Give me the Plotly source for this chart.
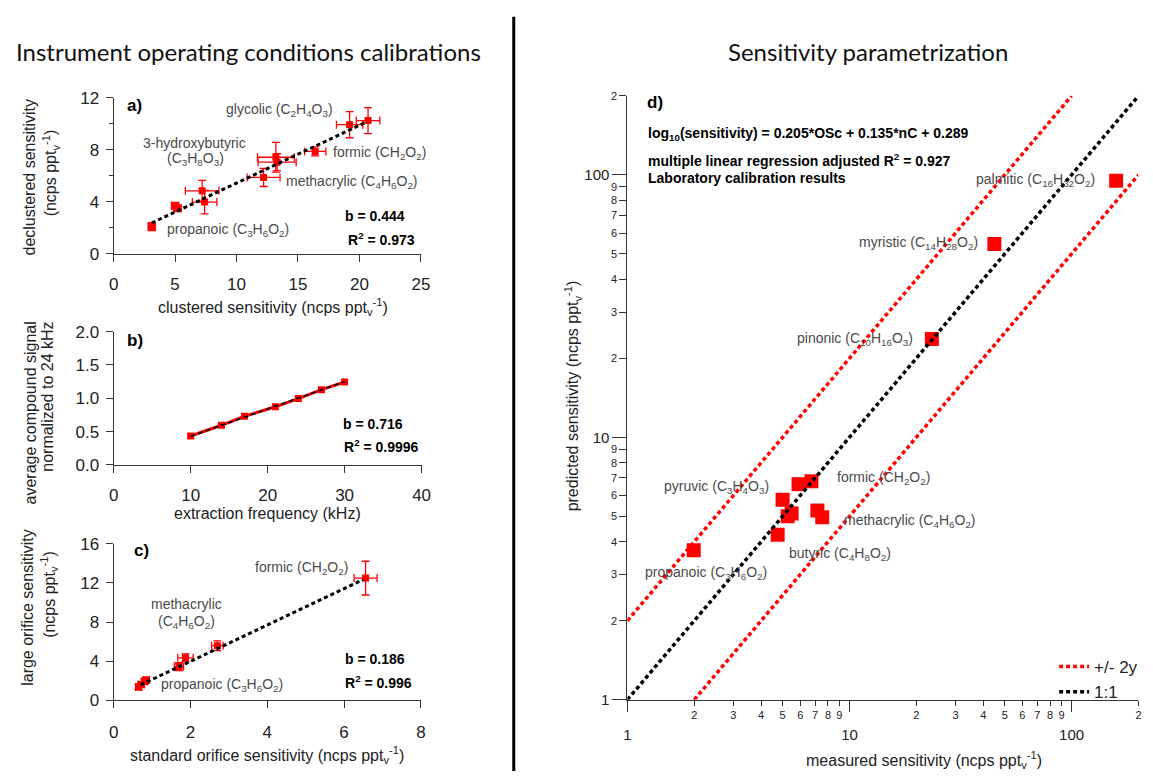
import re
import numpy as np
import plotly.graph_objects as go

W, H = 1153, 781

# ---------------- data ----------------
# a) clustered vs declustered sensitivity (ncps pptv^-1)
a_clustered = [3.1, 5.0, 5.2, 7.2, 7.4, 12.2, 13.2, 13.3, 16.4, 19.2, 20.7]
a_declustered = [2.1, 3.7, 3.5, 4.85, 3.98, 5.88, 7.43, 7.05, 7.88, 9.93, 10.25]
a_clustered_err = [0.3, 0.3, 0.3, 1.37, 1.0, 1.34, 1.5, 1.55, 0.87, 1.07, 0.96]
a_declustered_err = [0.3, 0.25, 0.25, 0.8, 0.9, 0.7, 1.15, 0.65, 0.35, 1.0, 1.0]
a_fit_x = [3.1, 20.6]
a_fit_y = [2.38, 10.15]

# b) extraction frequency scan
b_freq_khz = [10, 14, 17, 21, 24, 27, 30]
b_signal = [0.434, 0.595, 0.73, 0.873, 0.995, 1.13, 1.244]
b_fit_x = [10, 30]
b_fit_y = [0.43, 1.25]

# c) standard vs large orifice sensitivity
c_standard = [0.65, 0.72, 0.80, 0.85, 1.70, 1.87, 2.70, 6.56]
c_large = [1.35, 1.60, 1.90, 2.05, 3.43, 4.33, 5.57, 12.5]
c_standard_err = [0.08, 0.08, 0.08, 0.08, 0.12, 0.2, 0.15, 0.3]
c_large_err = [0.3, 0.3, 0.3, 0.3, 0.4, 0.4, 0.5, 1.73]
c_fit_x = [0.7, 6.5]
c_fit_y = [1.55, 12.35]

# d) measured vs predicted sensitivity
d_measured = [158.7, 44.9, 23.5, 1.99, 4.75, 5.0, 5.27, 5.49, 5.90, 6.74, 7.17, 7.54]
d_predicted = [95.0, 54.5, 23.7, 3.71, 4.25, 5.78, 5.0, 5.13, 6.63, 6.80, 5.26, 4.96]
d_one_to_one = [1, 200]
d_band_x = [1, 100, None, 2, 200]
d_band_y = [2, 200, None, 1, 100]

d_major_ticks = [1, 10, 100]
d_minor_ticks = [2, 3, 4, 5, 6, 7, 8, 9, 20, 30, 40, 50, 60, 70, 80, 90, 200]

# ---------------- style ----------------
FONT = "Liberation Sans"
TITLE_FONT = "Lato"
RED = "#ff0000"
INK = "#222222"
AXIS = "#333333"
GREY = "#4a4a4a"


def chem(formula):
    """Wrap the atom counts of a formula in subscripts."""
    return re.sub(r"(\d+)", r"<sub>\1</sub>", formula)


UNIT = "(ncps ppt<sub>v</sub><sup>-1</sup>)"


def px_x(p):
    return p / W


def px_y(p):
    return 1 - p / H


fig = go.Figure()

# a)
fig.add_trace(go.Scatter(
    x=a_clustered, y=a_declustered, mode="markers", xaxis="x", yaxis="y",
    marker=dict(symbol="square", size=7, color=RED),
    error_x=dict(type="data", array=a_clustered_err, color=RED, thickness=1.3, width=4),
    error_y=dict(type="data", array=a_declustered_err, color=RED, thickness=1.3, width=4),
    showlegend=False))
fig.add_trace(go.Scatter(
    x=a_fit_x, y=a_fit_y, mode="lines", xaxis="x", yaxis="y",
    line=dict(color="black", width=3, dash="4px,3px"), showlegend=False))

# b)
fig.add_trace(go.Scatter(
    x=b_freq_khz, y=b_signal, mode="lines+markers", xaxis="x2", yaxis="y2",
    line=dict(color=RED, width=3),
    marker=dict(symbol="square", size=7, color=RED), showlegend=False))
fig.add_trace(go.Scatter(
    x=b_fit_x, y=b_fit_y, mode="lines", xaxis="x2", yaxis="y2",
    line=dict(color="black", width=1.6, dash="5px,3px"), showlegend=False))

# c)
fig.add_trace(go.Scatter(
    x=c_standard, y=c_large, mode="markers", xaxis="x3", yaxis="y3",
    marker=dict(symbol="square", size=7, color=RED),
    error_x=dict(type="data", array=c_standard_err, color=RED, thickness=1.3, width=4),
    error_y=dict(type="data", array=c_large_err, color=RED, thickness=1.3, width=4),
    showlegend=False))
fig.add_trace(go.Scatter(
    x=c_fit_x, y=c_fit_y, mode="lines", xaxis="x3", yaxis="y3",
    line=dict(color="black", width=3, dash="4px,3px"), showlegend=False))

# d)
fig.add_trace(go.Scatter(
    x=d_band_x, y=d_band_y, mode="lines", xaxis="x4", yaxis="y4", name="+/- 2y",
    connectgaps=False, line=dict(color=RED, width=3.5, dash="4px,3px")))
fig.add_trace(go.Scatter(
    x=d_measured, y=d_predicted, mode="markers", xaxis="x4", yaxis="y4",
    marker=dict(symbol="square", size=14, color=RED), showlegend=False))
fig.add_trace(go.Scatter(
    x=d_one_to_one, y=d_one_to_one, mode="lines", xaxis="x5", yaxis="y5", name="1:1",
    line=dict(color="black", width=3.5, dash="4px,3px")))

# ---------------- axes ----------------
lin_common = dict(showline=True, linecolor=AXIS, linewidth=1, ticks="outside",
                  tickcolor=AXIS, tickwidth=1, ticklen=7, showgrid=False,
                  zeroline=False, tickfont=dict(family=FONT, size=17, color=INK))

fig.update_layout(
    xaxis=dict(domain=[px_x(110), px_x(421)], range=[0, 25], dtick=5, anchor="y",
               ticklabelstandoff=8, **lin_common),
    yaxis=dict(domain=[px_y(251), px_y(91)], range=[0, 12], dtick=4, anchor="x",
               minor=dict(dtick=2, ticklen=4, ticks="outside", tickcolor=AXIS),
               ticklabelstandoff=3, **lin_common),
    xaxis2=dict(domain=[px_x(110), px_x(421.7)], range=[0, 40], dtick=10, anchor="y2",
                ticklabelstandoff=8, **lin_common),
    yaxis2=dict(domain=[px_y(467.3), px_y(330.7)], range=[0, 2], dtick=0.5,
                tickformat=".1f", anchor="x2", ticklabelstandoff=3, **lin_common),
    xaxis3=dict(domain=[px_x(110), px_x(421)], range=[0, 8], dtick=2, anchor="y3",
                ticklabelstandoff=10, **lin_common),
    yaxis3=dict(domain=[px_y(708.3), px_y(548.3)], range=[0, 16], dtick=4, anchor="x3",
                ticklabelstandoff=3, **lin_common),
)

log_range = [0, np.log10(200)]
log_common = dict(type="log", range=log_range, showgrid=False, zeroline=False,
                  ticks="outside", tickcolor=AXIS, tickwidth=1)
fig.update_layout(
    xaxis4=dict(domain=[px_x(630), px_x(1147.4)], anchor="y4", showline=True,
                linecolor=AXIS, linewidth=1, tickmode="array", tickvals=d_minor_ticks,
                ticktext=[str(v)[0] for v in d_minor_ticks], ticklen=5,
                tickfont=dict(family=FONT, size=11, color=INK), **log_common),
    xaxis5=dict(overlaying="x4", anchor="y4", side="bottom", showline=False,
                tickmode="array", tickvals=d_major_ticks,
                ticktext=[str(v) for v in d_major_ticks], ticklen=11,
                ticklabelstandoff=10,
                tickfont=dict(family=FONT, size=15, color=INK), **log_common),
    yaxis4=dict(domain=[px_y(708), px_y(89)], anchor="x4", showline=True,
                linecolor=AXIS, linewidth=1, tickmode="array", tickvals=d_minor_ticks,
                ticktext=[str(v)[0] for v in d_minor_ticks], ticklen=7,
                tickfont=dict(family=FONT, size=11, color=INK), **log_common),
    yaxis5=dict(overlaying="y4", anchor="x4", side="left", showline=False,
                tickmode="array", tickvals=d_major_ticks,
                ticktext=[str(v) for v in d_major_ticks], ticklen=14,
                tickfont=dict(family=FONT, size=15, color=INK), **log_common),
)

# ---------------- text ----------------
ann = []


def label(text, x, y, xref, yref, size=14, color=GREY, bold=False, xanchor="center",
          angle=0, yanchor="middle", family=FONT):
    if bold:
        text = f"<b>{text}</b>"
    ann.append(dict(text=text, x=x, y=y, xref=xref, yref=yref, showarrow=False,
                    xanchor=xanchor, yanchor=yanchor, textangle=angle,
                    font=dict(family=family, size=size, color=color)))


# panel a labels
label("a)", 0.94, 11.43, "x", "y", size=17, color="black", bold=True, xanchor="left")
label(f"glycolic ({chem('C2H4O3')})", 13.5, 11.05, "x", "y")
label("3-hydroxybutyric", 6.56, 8.55, "x", "y")
label(f"({chem('C3H8O3')})", 6.62, 7.3, "x", "y")
label(f"formic ({chem('CH2O2')})", 21.6, 7.73, "x", "y")
label(f"methacrylic ({chem('C4H6O2')})", 19.43, 5.55, "x", "y")
label(f"propanoic ({chem('C3H6O2')})", 9.3, 1.8, "x", "y")
label("b = 0.444", 23.85, 2.93, "x", "y", color="black", bold=True, xanchor="right")
label("R<sup>2</sup> = 0.973", 24.65, 1.18, "x", "y", color="black", bold=True,
      xanchor="right")

# panel b labels
label("b)", 1.41, 1.86, "x2", "y2", size=17, color="black", bold=True, xanchor="left")
label("b = 0.716", 37.86, 0.62, "x2", "y2", color="black", bold=True, xanchor="right")
label("R<sup>2</sup> = 0.9996", 39.87, 0.28, "x2", "y2", color="black", bold=True,
      xanchor="right")

# panel c labels
label("c)", 0.47, 15.33, "x3", "y3", size=17, color="black", bold=True, xanchor="left")
label(f"formic ({chem('CH2O2')})", 4.89, 13.57, "x3", "y3")
label("methacrylic", 1.89, 9.83, "x3", "y3")
label(f"({chem('C4H6O2')})", 1.89, 8.0, "x3", "y3")
label(f"propanoic ({chem('C3H6O2')})", 2.83, 1.5, "x3", "y3")
label("b = 0.186", 7.63, 4.17, "x3", "y3", color="black", bold=True, xanchor="right")
label("R<sup>2</sup> = 0.996", 7.83, 1.9, "x3", "y3", color="black", bold=True,
      xanchor="right")

# panel d labels (log axes take log10 positions)
L = np.log10
label("d)", 0.080, 2.275, "x4", "y4", size=17, color="black", bold=True, xanchor="left")
label("log<sub>10</sub>(sensitivity) = 0.205*OSc + 0.135*nC + 0.289", 0.0846, 2.156,
      "x4", "y4", color="black", bold=True, xanchor="left")
label("multiple linear regression adjusted R<sup>2</sup> = 0.927", 0.0846, 2.056,
      "x4", "y4", color="black", bold=True, xanchor="left")
label("Laboratory calibration results", 0.0846, 1.989, "x4", "y4", color="black",
      bold=True, xanchor="left")
d_labels = [
    (f"palmitic ({chem('C16H32O2')})", 130.6, 95.8, "right"),
    (f"myristic ({chem('C14H28O2')})", 38.5, 54.9, "right"),
    (f"pinonic ({chem('C10H16O3')})", 19.8, 23.7, "right"),
    (f"pyruvic ({chem('C3H4O3')})", 4.42, 6.46, "right"),
    (f"formic ({chem('CH2O2')})", 8.62, 6.98, "left"),
    (f"methacrylic ({chem('C4H6O2')})", 9.26, 4.79, "left"),
    (f"butyric ({chem('C4H8O2')})", 5.21, 3.58, "left"),
    (f"propanoic ({chem('C3H6O2')})", 1.18, 3.04, "left"),
]
for text, x, y, anc in d_labels:
    label(text, L(x), L(y), "x4", "y4", xanchor=anc)

# axis titles
label("declustered sensitivity", px_x(25), px_y(172), "paper", "paper", size=16,
      color=INK, angle=-90)
label(UNIT, px_x(46), px_y(168), "paper", "paper", size=16, color=INK, angle=-90)
label(f"clustered sensitivity {UNIT}", px_x(271), px_y(305), "paper", "paper",
      size=16, color=INK)
label("average compound signal", px_x(26), px_y(318), "paper", "paper", size=16,
      color=INK, angle=-90, yanchor="top")
label("normalized to 24 kHz", px_x(43), px_y(318), "paper", "paper", size=16,
      color=INK, angle=-90, yanchor="top")
label("extraction frequency (kHz)", px_x(266), px_y(517), "paper", "paper", size=16,
      color=INK)
label("large orifice sensitivity", px_x(22), px_y(613), "paper", "paper", size=16,
      color=INK, angle=-90)
label(UNIT, px_x(45), px_y(600), "paper", "paper", size=16, color=INK, angle=-90)
label(f"standard orifice sensitivity {UNIT}", px_x(265), px_y(765), "paper", "paper",
      size=16, color=INK)
label(f"predicted sensitivity {UNIT}", px_x(575), px_y(397), "paper", "paper",
      size=16, color=INK, angle=-90)
label(f"measured sensitivity {UNIT}", px_x(930), px_y(770), "paper", "paper",
      size=16, color=INK)

# section titles
label("Instrument operating conditions calibrations", px_x(246), px_y(44), "paper",
      "paper", size=24, color="#111111", family=TITLE_FONT)
label("Sensitivity parametrization", px_x(874), px_y(44), "paper", "paper", size=24,
      color="#111111", family=TITLE_FONT)

fig.update_layout(
    width=W, height=H, margin=dict(l=0, r=0, t=0, b=0),
    paper_bgcolor="white", plot_bgcolor="white",
    font=dict(family=FONT, color=INK),
    annotations=ann,
    shapes=[dict(type="line", xref="paper", yref="paper", x0=px_x(515), x1=px_x(515),
                 y0=0, y1=px_y(8), line=dict(color="black", width=3))],
    showlegend=True,
    legend=dict(x=px_x(1062), y=px_y(656), xanchor="left", yanchor="top",
                bgcolor="rgba(0,0,0,0)", font=dict(family=FONT, size=17, color=INK),
                tracegroupgap=0, itemwidth=30),
)

fig.write_html("out.html")
